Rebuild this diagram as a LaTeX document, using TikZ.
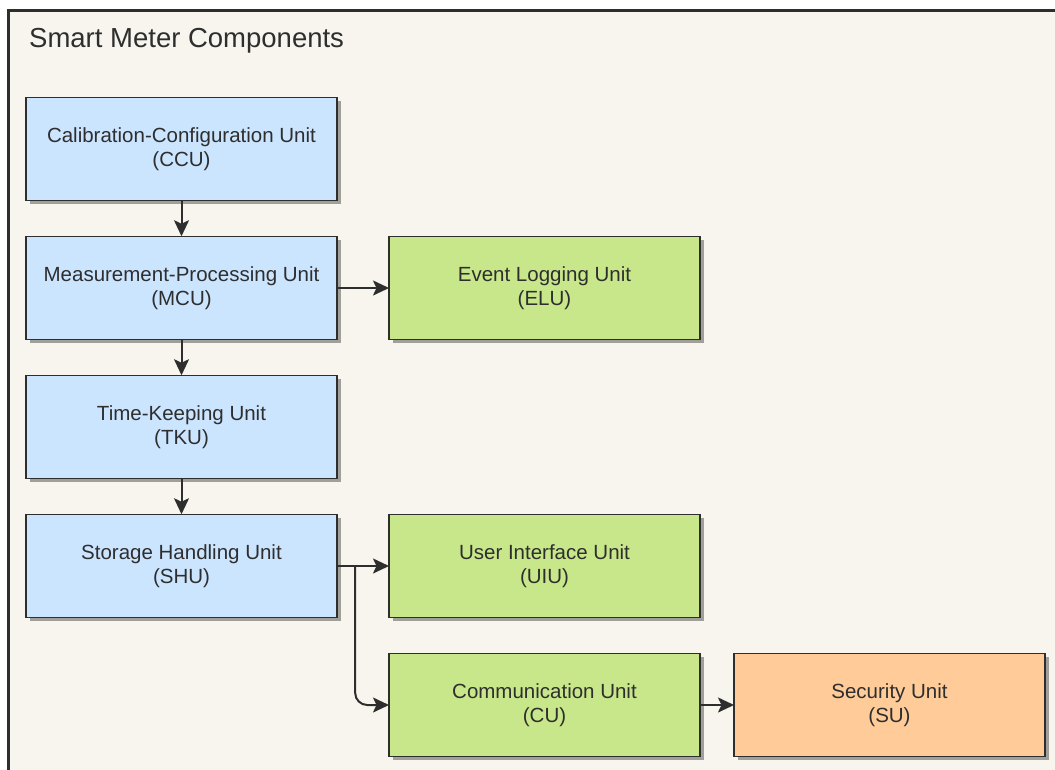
\documentclass[tikz,border=0pt]{standalone}
\usepackage{fontspec}
\setmainfont{Liberation Sans}
\usepackage{xcolor}
\usetikzlibrary{arrows.meta,shadows,calc,positioning}
\definecolor{frameback}{HTML}{F8F5EE}
\definecolor{ink}{HTML}{2E2E2E}
\definecolor{unitblue}{HTML}{CCE5FF}
\definecolor{unitgreen}{HTML}{C8E78A}
\definecolor{unitorange}{HTML}{FFCC99}

\begin{document}
\begin{tikzpicture}[x=1pt, y=-1pt, node distance=35.5pt and 52pt,
  unit/.style={rectangle, draw=ink, line width=1.4pt, text=ink, align=center,
    minimum width=311pt, minimum height=103.5pt, outer sep=0pt, inner sep=0pt,
    font=\fontsize{20.5}{23.5}\selectfont,
    drop shadow={shadow xshift=3.5pt, shadow yshift=-3.5pt, fill=black, opacity=0.35}},
  blueunit/.style={unit, fill=unitblue},
  greenunit/.style={unit, fill=unitgreen},
  orangeunit/.style={unit, fill=unitorange},
  link/.style={draw=ink, line width=2pt, -{Stealth[length=16pt, width=15pt, inset=3.5pt]}}]
\useasboundingbox (0,0) rectangle (1055,769);
\draw[fill=frameback, draw=ink, line width=2.4pt] (8.5,10.5) rectangle (1070,790);
\node[anchor=base west, inner sep=0pt, text=ink, font=\fontsize{27.5}{30}\selectfont] (title) at (29,47) {Smart Meter Components};
% main column
\node[blueunit] (ccu) at (181.5,149) {Calibration-Configuration Unit\\(CCU)};
\node[blueunit, below=of ccu] (mcu) {Measurement-Processing Unit\\(MCU)};
\node[blueunit, below=of mcu] (tku) {Time-Keeping Unit\\(TKU)};
\node[blueunit, below=of tku] (shu) {Storage Handling Unit\\(SHU)};
% side units
\node[greenunit, right=of mcu] (elu) {Event Logging Unit\\(ELU)};
\node[greenunit, right=of shu] (uiu) {User Interface Unit\\(UIU)};
\node[greenunit, below=of uiu] (cu) {Communication Unit\\(CU)};
\node[orangeunit, right=34pt of cu] (su) {Security Unit\\(SU)};
\coordinate (split) at ($(shu.east)!0.35!(uiu.west)$);
\draw[link] (ccu) -- (mcu);
\draw[link] (mcu) -- (tku);
\draw[link] (tku) -- (shu);
\draw[link] (mcu) -- (elu);
\draw[link] (shu) -- (uiu);
\draw[link, rounded corners=12pt] (split) |- (cu.west);
\draw[link] (cu) -- (su);
\end{tikzpicture}
\end{document}
